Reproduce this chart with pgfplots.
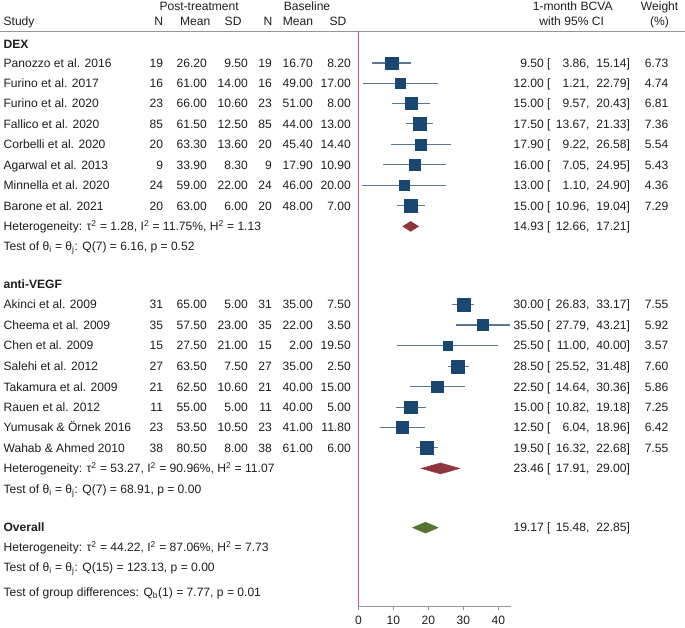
\documentclass[border=0pt]{standalone}
\usepackage{pgfplots}
\pgfplotsset{compat=1.18}
\usepackage{pgfplotstable}
\usepackage{fontspec}
\setmainfont{Liberation Sans}
\definecolor{navy}{RGB}{26,71,111}
\definecolor{cicol}{RGB}{90,120,150}
\definecolor{maroon}{RGB}{144,53,59}
\definecolor{fgreen}{RGB}{85,117,47}
\definecolor{nullred}{RGB}{228,75,108}
\definecolor{rulegray}{RGB}{150,150,150}
\definecolor{txtcol}{RGB}{30,30,30}
\newcommand{\fs}{\fontsize{12.1}{14}\selectfont}
\tikzset{txt/.style={inner sep=0pt, text height=8.6pt, text depth=0pt, font=\fs, text=txtcol}}
% study row: py, name, N1, mean1, sd1, N2, mean2, sd2
\newcommand{\study}[8]{%
 \node[txt,anchor=west] at (axis cs:-101.57,-#1) {#2};
 \node[txt,anchor=east] at (axis cs:-55.86,-#1) {#3};
 \node[txt,anchor=east] at (axis cs:-43.29,-#1) {#4};
 \node[txt,anchor=east] at (axis cs:-31.57,-#1) {#5};
 \node[txt,anchor=east] at (axis cs:-24.71,-#1) {#6};
 \node[txt,anchor=east] at (axis cs:-13.00,-#1) {#7};
 \node[txt,anchor=east] at (axis cs:-2.14,-#1) {#8};
}
% estimate text: py, est, lo, hi, weight
\newcommand{\esttext}[5]{%
 \node[txt,anchor=east] at (axis cs:55.0,-#1) {#2 [};
 \node[txt,anchor=east] at (axis cs:66.14,-#1) {#3,};
 \node[txt,anchor=east] at (axis cs:77.71,-#1) {#4]};
 \node[txt,anchor=east] at (axis cs:88.71,-#1) {#5};
}
\newcommand{\lefttext}[2]{\node[txt,anchor=west] at (axis cs:-101.57,-#1) {#2};}

\pgfplotstableread{
y est lo hi w
-63.0 9.50 3.86 15.14 6.73
-83.3 12.00 1.21 22.79 4.74
-103.7 15.00 9.57 20.43 6.81
-124.0 17.50 13.67 21.33 7.36
-144.7 17.90 9.22 26.58 5.54
-165.0 16.00 7.05 24.95 5.43
-185.7 13.00 1.10 24.90 4.36
-206.0 15.00 10.96 19.04 7.29
-305.0 30.00 26.83 33.17 7.55
-325.3 35.50 27.79 43.21 5.92
-346.0 25.50 11.00 40.00 3.57
-366.7 28.50 25.52 31.48 7.60
-387.3 22.50 14.64 30.36 5.86
-407.7 15.00 10.82 19.18 7.25
-427.7 12.50 6.04 18.96 6.42
-448.3 19.50 16.32 22.68 7.55
}\studies

\begin{document}
\begin{tikzpicture}
\begin{axis}[
  x=3.5pt, y=1pt,
  xmin=0, xmax=43.6, ymin=-607, ymax=-31,
  axis x line=bottom, axis y line=none,
  axis line style={rulegray, -, line width=0.8pt},
  x axis line style={-},
  xtick={0,10,20,30,40}, tick align=outside, major tick length=4pt,
  tick style={rulegray, line width=0.8pt},
  xticklabel style={font=\fs, text=txtcol, yshift=-2pt},
  /pgf/number format/assume math mode=true,
  clip=false, enlargelimits=false,
]
% bounding frame
\path (axis cs:-102.43,0) rectangle (axis cs:93.29,-625);
% header rule
\draw[rulegray, line width=0.8pt] (axis cs:-102.43,-31) -- (axis cs:93.29,-31);
% null line
\addplot[nullred, line width=1.1pt, forget plot] coordinates {(0,-31) (0,-607)};
% CI lines
\addplot[only marks, mark=none, forget plot,
  error bars/.cd, x dir=both, x explicit, error mark=none,
  error bar style={cicol, line width=1.3pt}]
  table[x=est, y=y, x error plus expr=\thisrow{hi}-\thisrow{est},
        x error minus expr=\thisrow{est}-\thisrow{lo}] {\studies};
% squares (area proportional to weight)
\addplot[scatter, only marks, mark=square*,
  point meta=\thisrow{w},
  scatter/use mapped color={draw=navy, fill=navy},
  visualization depends on={\thisrow{w} \as \wt},
  scatter/@pre marker code/.append style={/tikz/mark size=2.35*sqrt(\wt)}]
  table[x=est, y=y] {\studies};
% diamonds
\addplot[fill=maroon, draw=maroon] coordinates {(12.66,-226.7) (14.93,-221.7) (17.21,-226.7) (14.93,-231.7)} --cycle;
\addplot[fill=maroon, draw=maroon] coordinates {(17.91,-469) (23.46,-463.5) (29.00,-469) (23.46,-474.5)} --cycle;
\addplot[fill=fgreen, draw=fgreen] coordinates {(15.48,-528.3) (19.17,-522.8) (22.85,-528.3) (19.17,-533.8)} --cycle;

% headers
\node[txt,anchor=center] at (axis cs:-45.57,-6) {Post-treatment};
\node[txt,anchor=center] at (axis cs:-14.71,-6) {Baseline};
\node[txt,anchor=west] at (axis cs:-101.57,-21.5) {Study};
\node[txt,anchor=center] at (axis cs:-57.14,-21.5) {N};
\node[txt,anchor=center] at (axis cs:-46.71,-21.5) {Mean};
\node[txt,anchor=center] at (axis cs:-35.86,-21.5) {SD};
\node[txt,anchor=center] at (axis cs:-25.86,-21.5) {N};
\node[txt,anchor=center] at (axis cs:-17.29,-21.5) {Mean};
\node[txt,anchor=center] at (axis cs:-5.86,-21.5) {SD};
\node[txt,anchor=center] at (axis cs:61.29,-6) {1-month BCVA};
\node[txt,anchor=center] at (axis cs:61.0,-21.5) {with 95\% CI};
\node[txt,anchor=center] at (axis cs:86.14,-6) {Weight};
\node[txt,anchor=center] at (axis cs:86.14,-21.5) {(\%)};

% DEX group
\lefttext{44.3}{\bfseries DEX}
\study{63.0}{Panozzo et al. 2016}{19}{26.20}{9.50}{19}{16.70}{8.20}
\study{83.3}{Furino et al. 2017}{16}{61.00}{14.00}{16}{49.00}{17.00}
\study{103.7}{Furino et al. 2020}{23}{66.00}{10.60}{23}{51.00}{8.00}
\study{124.0}{Fallico et al. 2020}{85}{61.50}{12.50}{85}{44.00}{13.00}
\study{144.7}{Corbelli et al. 2020}{20}{63.30}{13.60}{20}{45.40}{14.40}
\study{165.0}{Agarwal et al. 2013}{9}{33.90}{8.30}{9}{17.90}{10.90}
\study{185.7}{Minnella et al. 2020}{24}{59.00}{22.00}{24}{46.00}{20.00}
\study{206.0}{Barone et al. 2021}{20}{63.00}{6.00}{20}{48.00}{7.00}
\lefttext{226.7}{Heterogeneity: τ\textsuperscript{2} = 1.28, I\textsuperscript{2} = 11.75\%, H\textsuperscript{2} = 1.13}
\lefttext{247.0}{Test of θ\textsubscript{i} = θ\textsubscript{j}: Q(7) = 6.16, p = 0.52}
\esttext{63.0}{9.50}{3.86}{15.14}{6.73}
\esttext{83.3}{12.00}{1.21}{22.79}{4.74}
\esttext{103.7}{15.00}{9.57}{20.43}{6.81}
\esttext{124.0}{17.50}{13.67}{21.33}{7.36}
\esttext{144.7}{17.90}{9.22}{26.58}{5.54}
\esttext{165.0}{16.00}{7.05}{24.95}{5.43}
\esttext{185.7}{13.00}{1.10}{24.90}{4.36}
\esttext{206.0}{15.00}{10.96}{19.04}{7.29}
\esttext{226.7}{14.93}{12.66}{17.21}{}

% anti-VEGF group
\lefttext{285.0}{\bfseries anti-VEGF}
\study{305.0}{Akinci et al. 2009}{31}{65.00}{5.00}{31}{35.00}{7.50}
\study{325.3}{Cheema et al. 2009}{35}{57.50}{23.00}{35}{22.00}{3.50}
\study{346.0}{Chen et al. 2009}{15}{27.50}{21.00}{15}{2.00}{19.50}
\study{366.7}{Salehi et al. 2012}{27}{63.50}{7.50}{27}{35.00}{2.50}
\study{387.3}{Takamura et al. 2009}{21}{62.50}{10.60}{21}{40.00}{15.00}
\study{407.7}{Rauen et al. 2012}{11}{55.00}{5.00}{11}{40.00}{5.00}
\study{427.7}{Yumusak \& Örnek 2016}{23}{53.50}{10.50}{23}{41.00}{11.80}
\study{448.3}{Wahab \& Ahmed 2010}{38}{80.50}{8.00}{38}{61.00}{6.00}
\lefttext{469.0}{Heterogeneity: τ\textsuperscript{2} = 53.27, I\textsuperscript{2} = 90.96\%, H\textsuperscript{2} = 11.07}
\lefttext{489.7}{Test of θ\textsubscript{i} = θ\textsubscript{j}: Q(7) = 68.91, p = 0.00}
\esttext{305.0}{30.00}{26.83}{33.17}{7.55}
\esttext{325.3}{35.50}{27.79}{43.21}{5.92}
\esttext{346.0}{25.50}{11.00}{40.00}{3.57}
\esttext{366.7}{28.50}{25.52}{31.48}{7.60}
\esttext{387.3}{22.50}{14.64}{30.36}{5.86}
\esttext{407.7}{15.00}{10.82}{19.18}{7.25}
\esttext{427.7}{12.50}{6.04}{18.96}{6.42}
\esttext{448.3}{19.50}{16.32}{22.68}{7.55}
\esttext{469.0}{23.46}{17.91}{29.00}{}

% overall
\lefttext{528.3}{\bfseries Overall}
\lefttext{548.3}{Heterogeneity: τ\textsuperscript{2} = 44.22, I\textsuperscript{2} = 87.06\%, H\textsuperscript{2} = 7.73}
\lefttext{568.3}{Test of θ\textsubscript{i} = θ\textsubscript{j}: Q(15) = 123.13, p = 0.00}
\lefttext{593.3}{Test of group differences: Q\textsubscript{b}(1) = 7.77, p = 0.01}
\esttext{528.3}{19.17}{15.48}{22.85}{}
\end{axis}
\end{tikzpicture}
\end{document}
